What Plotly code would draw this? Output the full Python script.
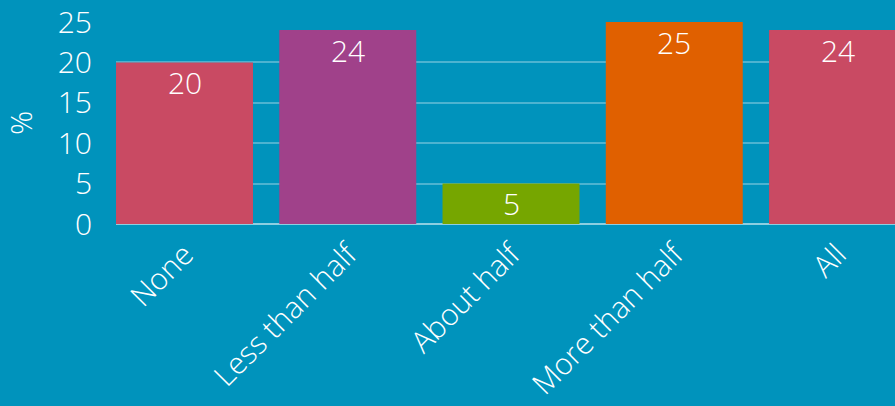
import plotly.graph_objects as go

# Share of respondents by category
categories = ["None", "Less than half", "About half", "More than half", "All"]
values = [20, 24, 5, 25, 24]
bar_colors = ["#C94A63", "#A0418A", "#76A600", "#E06000", "#C94A63"]
y_ticks = [0, 5, 10, 15, 20, 25]

BG = "#0093BC"
FONT = "Open Sans"

fig = go.Figure(
    go.Bar(
        x=categories,
        y=values,
        marker=dict(color=bar_colors, line=dict(width=0)),
        hoverinfo="skip",
    )
)

# Value labels just inside the top of each bar
for cat, val in zip(categories, values):
    fig.add_annotation(
        x=cat,
        y=val,
        text=str(val),
        showarrow=False,
        yanchor="middle",
        yshift=-20,
        font=dict(family=FONT, size=30, color="white", weight=300),
    )

fig.update_layout(
    width=895,
    height=406,
    margin=dict(l=116, r=0, t=22, b=182, autoexpand=False),
    paper_bgcolor=BG,
    plot_bgcolor=BG,
    bargap=0.161,
    showlegend=False,
    font=dict(family=FONT, color="white", size=30, weight=300),
)

fig.update_xaxes(
    range=[-0.4196, 4.352],
    tickangle=-45,
    tickfont=dict(family=FONT, size=30, color="white", weight=300),
    showgrid=False,
    showline=False,
    ticks="",
    ticklabelstandoff=6,
    automargin=False,
)

fig.update_yaxes(
    range=[0, 25],
    tickvals=y_ticks,
    tickfont=dict(family=FONT, size=30, color="white", weight=300),
    showgrid=True,
    gridcolor="rgba(255,255,255,0.3)",
    gridwidth=2,
    zeroline=True,
    zerolinecolor="rgba(255,255,255,0.55)",
    zerolinewidth=2,
    showline=False,
    ticks="",
    ticklabelstandoff=23,
    automargin=False,
    title=dict(text="%", font=dict(family=FONT, size=30, color="white", weight=300), standoff=22),
)

fig.write_html("out.html")
